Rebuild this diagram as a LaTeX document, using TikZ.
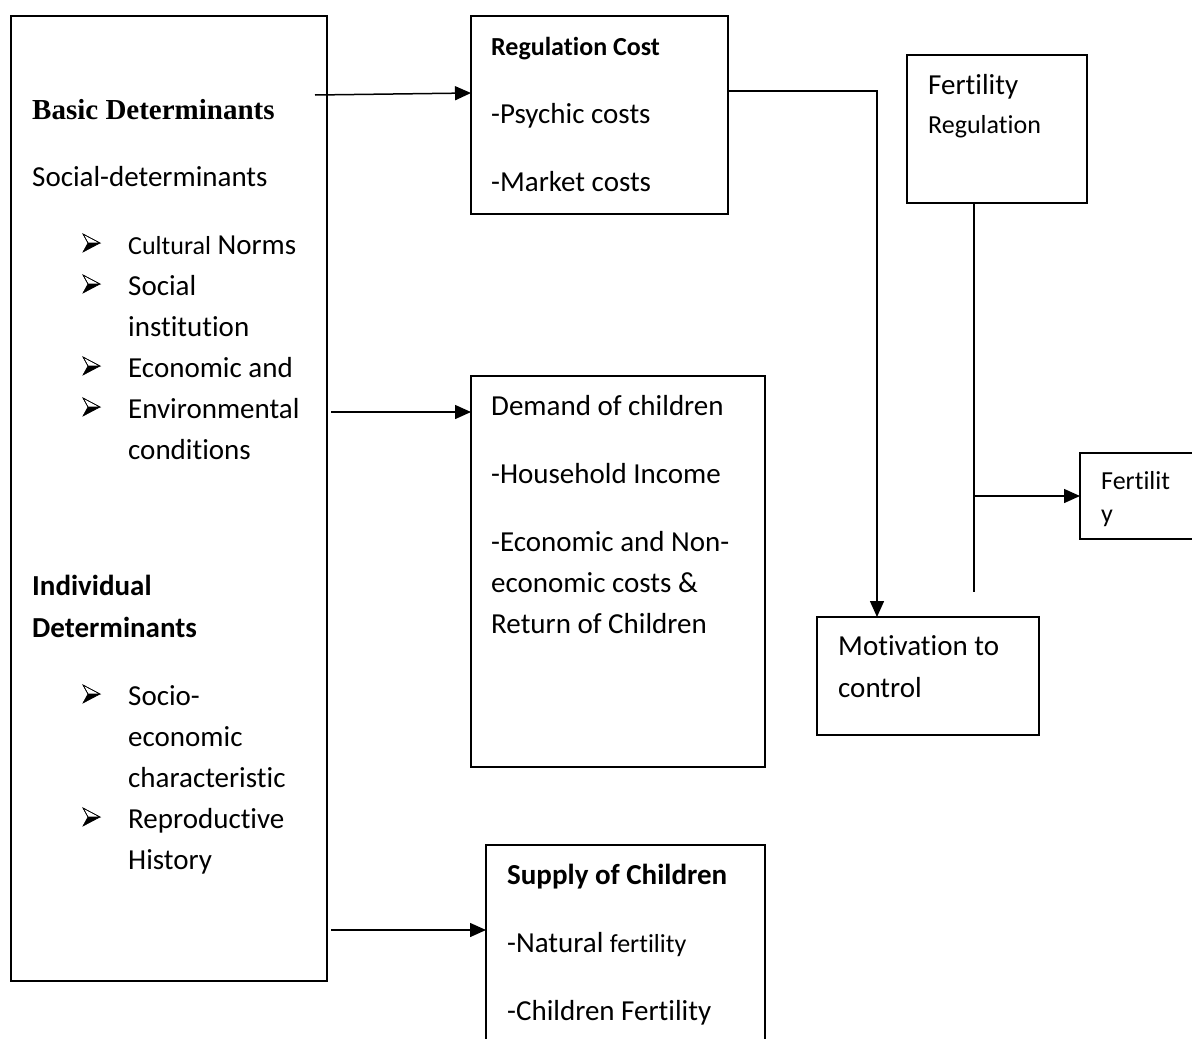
\documentclass[tikz,border=0pt]{standalone}
\usepackage{fontspec}
\setmainfont{Carlito}[Ligatures=NoCommon]
\newfontfamily\timesf{Liberation Serif}
\usetikzlibrary{arrows.meta}
\tikzset{
  box/.style={draw, line width=1.5pt, rectangle, anchor=north west, inner sep=0pt, outer sep=0pt},
  txt/.style={anchor=base west, inner sep=0pt, font=\fontsize{29}{35}\selectfont},
  stxt/.style={anchor=base west, inner sep=0pt, font=\fontsize{26}{31}\selectfont},
  conn/.style={line width=1.5pt},
  arr/.style={line width=1.5pt, -{Triangle[length=16pt,width=14pt]}},
  barrow/.pic={
    \draw[line width=0.6pt, fill=white] (0,-9) -- (17,0) -- (5,0) -- cycle;
    \fill (5,0) -- (17,0) -- (0,9) -- cycle;
    \draw[line width=0.6pt] (0,-9) -- (17,0) -- (0,9) -- (5,0) -- cycle;
  }
}
\newcommand{\smf}{\fontsize{26}{31}\selectfont}
\begin{document}
\begin{tikzpicture}[x=1pt,y=-1pt]
\useasboundingbox (0,0) rectangle (1192,1039);
\clip (0,0) rectangle (1192,1039);
\fill[white] (0,0) rectangle (1192,1039);

% boxes
\node[box, minimum width=316pt, minimum height=965pt] (left) at (11,16) {};
\node[box, minimum width=257pt, minimum height=198pt] (reg) at (471,16) {};
\node[box, minimum width=180pt, minimum height=148pt] (fr) at (907,55) {};
\node[box, minimum width=294pt, minimum height=391pt] (dem) at (471,376) {};
\node[box, minimum width=222pt, minimum height=118pt] (mot) at (817,617) {};
\node[box, minimum width=130pt, minimum height=86pt] (fert) at (1080,453) {};
\node[box, minimum width=279pt, minimum height=215pt] (sup) at (486,845) {};

% left box texts
\node[anchor=base west, inner sep=0pt, font=\timesf\bfseries\fontsize{29}{35}\selectfont] (t1) at (32,119) {Basic Determinants};
\node[txt] (t2) at (32,186) {Social-determinants};
\node[txt] (t3) at (128,254) {{\smf Cultural} Norms};
\node[txt] (t4) at (128,295) {Social};
\node[txt] (t5) at (128,336) {institution};
\node[txt] (t6) at (128,377) {Economic and};
\node[txt] (t7) at (128,418) {Environmental};
\node[txt] (t8) at (128,459) {conditions};
\node[txt, font=\bfseries\fontsize{29}{35}\selectfont] (t9) at (32,595) {Individual};
\node[txt, font=\bfseries\fontsize{29}{35}\selectfont] (t10) at (32,637) {Determinants};
\node[txt] (t11) at (128,705) {Socio-};
\node[txt] (t12) at (128,746) {economic};
\node[txt] (t13) at (128,787) {characteristic};
\node[txt] (t14) at (128,828) {Reproductive};
\node[txt] (t15) at (128,869) {History};

% bullets
\pic at (83,243) {barrow};
\pic at (83,284) {barrow};
\pic at (83,366) {barrow};
\pic at (83,407) {barrow};
\pic at (83,694) {barrow};
\pic at (83,817) {barrow};

% regulation cost
\node[txt, font=\bfseries\fontsize{26}{31}\selectfont] (r1) at (491,55) {Regulation Cost};
\node[txt] (r2) at (491,123) {-Psychic costs};
\node[txt] (r3) at (491,191) {-Market costs};

% demand
\node[txt] (d1) at (491,415) {Demand of children};
\node[txt] (d2) at (491,483) {-Household Income};
\node[txt] (d3) at (491,551) {-Economic and Non-};
\node[txt] (d4) at (491,592) {economic costs \&};
\node[txt] (d5) at (491,633) {Return of Children};

% supply
\node[txt, font=\bfseries\fontsize{29}{35}\selectfont] (s1) at (507,884) {Supply of Children};
\node[txt] (s2) at (507,952) {-Natural {\smf fertility}};
\node[txt] (s3) at (507,1020) {-Children Fertility};

% fertility regulation
\node[txt] (f1) at (928,94) {Fertility};
\node[stxt] (f2) at (928,133) {Regulation};

% motivation
\node[txt] (m1) at (838,655) {Motivation to};
\node[txt] (m2) at (838,697) {control};

% fertility
\node[stxt] (g1) at (1101,489) {Fertilit};
\node[stxt] (g2) at (1101,522) {y};

% connectors
\coordinate (a1s) at (315,95);
\draw[arr] (a1s) -- ([yshift=-77pt]reg.north west);
\coordinate (a2s) at (331,412);
\draw[arr] (a2s) -- (a2s -| dem.west);
\coordinate (a3s) at (331,930);
\draw[arr] (a3s) -- (a3s -| sup.west);
\draw[arr] ([yshift=-75pt]reg.north east) -| ([xshift=60pt]mot.north west);
\coordinate (frend) at (974,592);
\draw[conn] (fr.south west -| frend) -- (frend);
\coordinate (br) at (974,496);
\draw[arr] (br) -- (br -| fert.west);
\end{tikzpicture}
\end{document}
